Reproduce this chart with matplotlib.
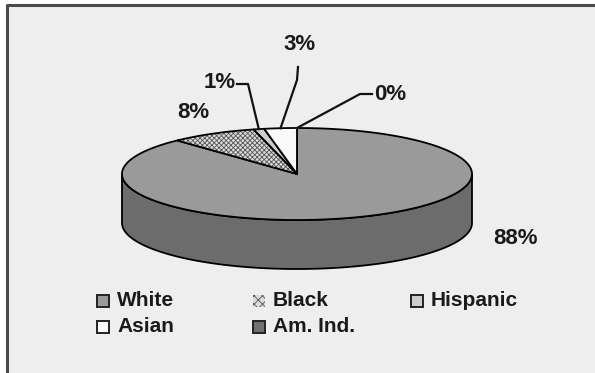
import numpy as np
import matplotlib.pyplot as plt
from matplotlib.patches import Polygon, Rectangle

# Race / ethnicity breakdown (percent)
categories = ["White", "Black", "Hispanic", "Asian", "Am. Ind."]
shares = [88, 8, 1, 3, 0]

top_colors = ["#9a9a9a", "#dcdcdc", "#cdcdcd", "#fafafa", "#707070"]
side_colors = ["#6c6c6c", "#9a9a9a", "#9a9a9a", "#bbbbbb", "#505050"]
hatches = [None, "xxxxxxx", None, None, None]

plt.rcParams["font.family"] = ["Liberation Sans", "DejaVu Sans"]
plt.rcParams["hatch.linewidth"] = 0.6

fig = plt.figure(figsize=(5.95, 3.73), dpi=100)
fig.patch.set_facecolor("white")
ax = fig.add_axes([0, 0, 1, 1])
ax.set_xlim(0, 595)
ax.set_ylim(373, 0)
ax.axis("off")

# panel background and frame
ax.add_patch(Rectangle((7, 5), 600, 400, facecolor="#eeeeee", edgecolor="none", zorder=0))
ax.plot([7, 7, 595], [373, 5, 5], color="#4a4a4a", lw=2.2, zorder=1, solid_capstyle="butt")

# pie geometry (pixels, y grows downwards)
cx, cy, a, b, depth = 297, 174, 175, 46, 49


def pt(f):
    t = 2 * np.pi * np.asarray(f)
    return cx + a * np.sin(t), cy - b * np.cos(t)


bounds = np.concatenate([[0], np.cumsum(shares)]) / 100.0

# side wall, only the front half (f between 0.25 and 0.75) is visible
for i in range(len(shares)):
    lo, hi = max(bounds[i], 0.25), min(bounds[i + 1], 0.75)
    if hi <= lo:
        continue
    f = np.linspace(lo, hi, 120)
    x, y = pt(f)
    xs = np.concatenate([x, x[::-1]])
    ys = np.concatenate([y, y[::-1] + depth])
    ax.add_patch(Polygon(np.column_stack([xs, ys]), closed=True,
                         facecolor=side_colors[i], edgecolor="black", lw=1.3, zorder=2))

# top face wedges
for i in range(len(shares)):
    if shares[i] == 0:
        continue
    f = np.linspace(bounds[i], bounds[i + 1], max(int(shares[i] * 4), 8))
    x, y = pt(f)
    xs = np.concatenate([[cx], x])
    ys = np.concatenate([[cy], y])
    verts = np.column_stack([xs, ys])
    if hatches[i]:
        ax.add_patch(Polygon(verts, closed=True, facecolor=top_colors[i],
                             edgecolor="#555555", hatch=hatches[i], lw=0, zorder=3))
        ax.add_patch(Polygon(verts, closed=True, fill=False,
                             edgecolor="black", lw=1.3, zorder=4))
    else:
        ax.add_patch(Polygon(verts, closed=True, facecolor=top_colors[i],
                             edgecolor="black", lw=1.3, zorder=3))

# percentage labels
label_pos = [(516, 238), (193, 112), (220, 82), (299, 45), (390, 95)]
for s, (lx, ly) in zip(shares, label_pos):
    ax.text(lx, ly, f"{s}%", ha="center", va="center", fontsize=16,
            fontweight="bold", color="#1a1a1a", zorder=6)

# leader lines for the thin slices
elbows = {2: [(237, 84), (248, 84)], 3: [(298, 67), (297, 80)], 4: [(372, 94), (360, 94)]}
for i, pts in elbows.items():
    ex, ey = pt((bounds[i] + bounds[i + 1]) / 2)
    xs = [p[0] for p in pts] + [ex]
    ys = [p[1] for p in pts] + [ey]
    ax.plot(xs, ys, color="#111111", lw=1.6, zorder=5)

# legend
leg_pos = [(97, 301), (253, 301), (411, 301), (97, 327), (253, 327)]
for i, (lx, ly) in enumerate(leg_pos):
    if hatches[i]:
        ax.add_patch(Rectangle((lx, ly - 6), 12, 12, facecolor=top_colors[i],
                               edgecolor="#555555", hatch="xxxx", lw=0, zorder=3))
    else:
        ax.add_patch(Rectangle((lx, ly - 6), 12, 12, facecolor=top_colors[i],
                               edgecolor="#222222", lw=1.4, zorder=3))
    ax.text(lx + 20, ly, categories[i], ha="left", va="center", fontsize=15,
            fontweight="bold", color="#1a1a1a", zorder=6)

fig.savefig("out.png", dpi=100)
